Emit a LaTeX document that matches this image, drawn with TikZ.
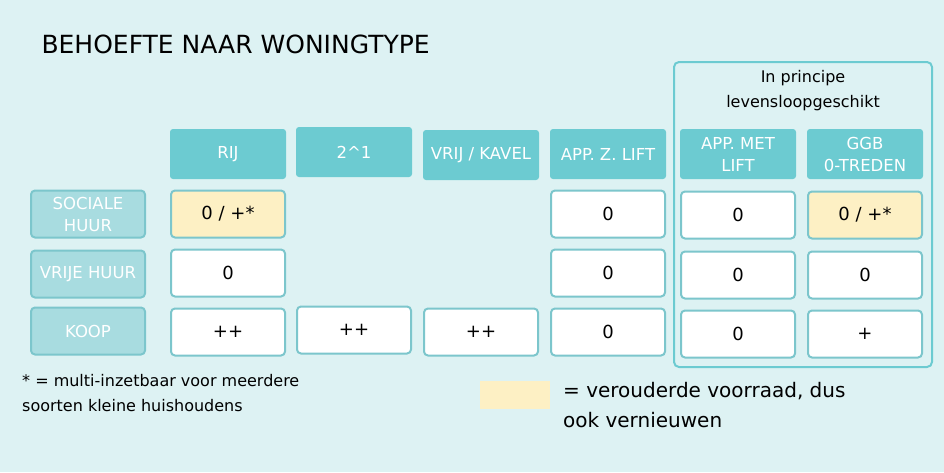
\documentclass[tikz,border=0pt]{standalone}
\usepackage{fontspec}
\setmainfont{DejaVu Sans}
\usetikzlibrary{positioning}
\definecolor{bgcyan}{HTML}{DDF2F3}
\definecolor{headteal}{HTML}{6CCBD1}
\definecolor{rowteal}{HTML}{A8DCE0}
\definecolor{edgeteal}{HTML}{7CC6CC}
\definecolor{oldyellow}{HTML}{FDF0C4}
\begin{document}
\begin{tikzpicture}[x=1pt,y=-1pt,
  head/.style={rectangle,rounded corners=3pt,fill=headteal,text=white,minimum width=116pt,minimum height=50pt,align=center,font=\fontsize{16.5}{22}\selectfont},
  rowlab/.style={rectangle,rounded corners=4pt,draw=edgeteal,line width=2pt,fill=rowteal,text=white,minimum width=114pt,minimum height=47pt,align=center,font=\fontsize{16.5}{22}\selectfont},
  cell/.style={rectangle,rounded corners=4pt,draw=edgeteal,line width=2pt,fill=white,minimum width=114pt,minimum height=47pt,font=\fontsize{18}{22}\selectfont},
  old/.style={cell,fill=oldyellow}]
  \fill[bgcyan] (0,0) rectangle (944,472);
  \node[anchor=west,font=\fontsize{25}{30}\selectfont] (title) at (38,44) {BEHOEFTE NAAR WONINGTYPE};
  % levensloopgeschikt group
  \draw[headteal,line width=2pt,rounded corners=5pt] (674,62) rectangle (932,367);
  \node[font=\fontsize{16}{25}\selectfont,align=center] (group) at (803,91) {In principe\\levensloopgeschikt};
  % headers
  \node[head] (rij) at (228,154) {RIJ};
  \node[head] (twee) at (354,152) {2\^{}1};
  \node[head] (vrij) at (481,155) {VRIJ / KAVEL};
  \node[head] (appz) at (608,154) {APP. Z. LIFT};
  \node[head] (appm) at (738,154) {APP. MET\\LIFT};
  \node[head] (ggb) at (865,154) {GGB\\0-TREDEN};
  % row labels
  \node[rowlab] (soc) at (88,214) {SOCIALE\\HUUR};
  \node[rowlab] (vhuur) at (88,274) {VRIJE HUUR};
  \node[rowlab] (koop) at (88,331) {KOOP};
  % cells
  \node[old] (soc_rij) at (228,214) {0 / +*};
  \node[cell] (soc_appz) at (608,214) {0};
  \node[cell] (soc_appm) at (738,215) {0};
  \node[old] (soc_ggb) at (865,215) {0 / +*};
  \node[cell] (vhuur_rij) at (228,273) {0};
  \node[cell] (vhuur_appz) at (608,273) {0};
  \node[cell] (vhuur_appm) at (738,275) {0};
  \node[cell] (vhuur_ggb) at (865,275) {0};
  \node[cell] (koop_rij) at (228,332) {++};
  \node[cell] (koop_twee) at (354,330) {++};
  \node[cell] (koop_vrij) at (481,332) {++};
  \node[cell] (koop_appz) at (608,332) {0};
  \node[cell] (koop_appm) at (738,334) {0};
  \node[cell] (koop_ggb) at (865,334) {+};
  % notes
  \node[anchor=north west,align=left,font=\fontsize{16}{25}\selectfont,inner sep=0pt] (note) at (22,374) {* = multi-inzetbaar voor meerdere\\soorten kleine huishoudens};
  \fill[oldyellow] (480,381) rectangle (550,409);
  \node[anchor=north west,align=left,font=\fontsize{20}{30}\selectfont,inner sep=0pt] (legend) at (563,382) {= verouderde voorraad, dus\\ook vernieuwen};
\end{tikzpicture}
\end{document}
